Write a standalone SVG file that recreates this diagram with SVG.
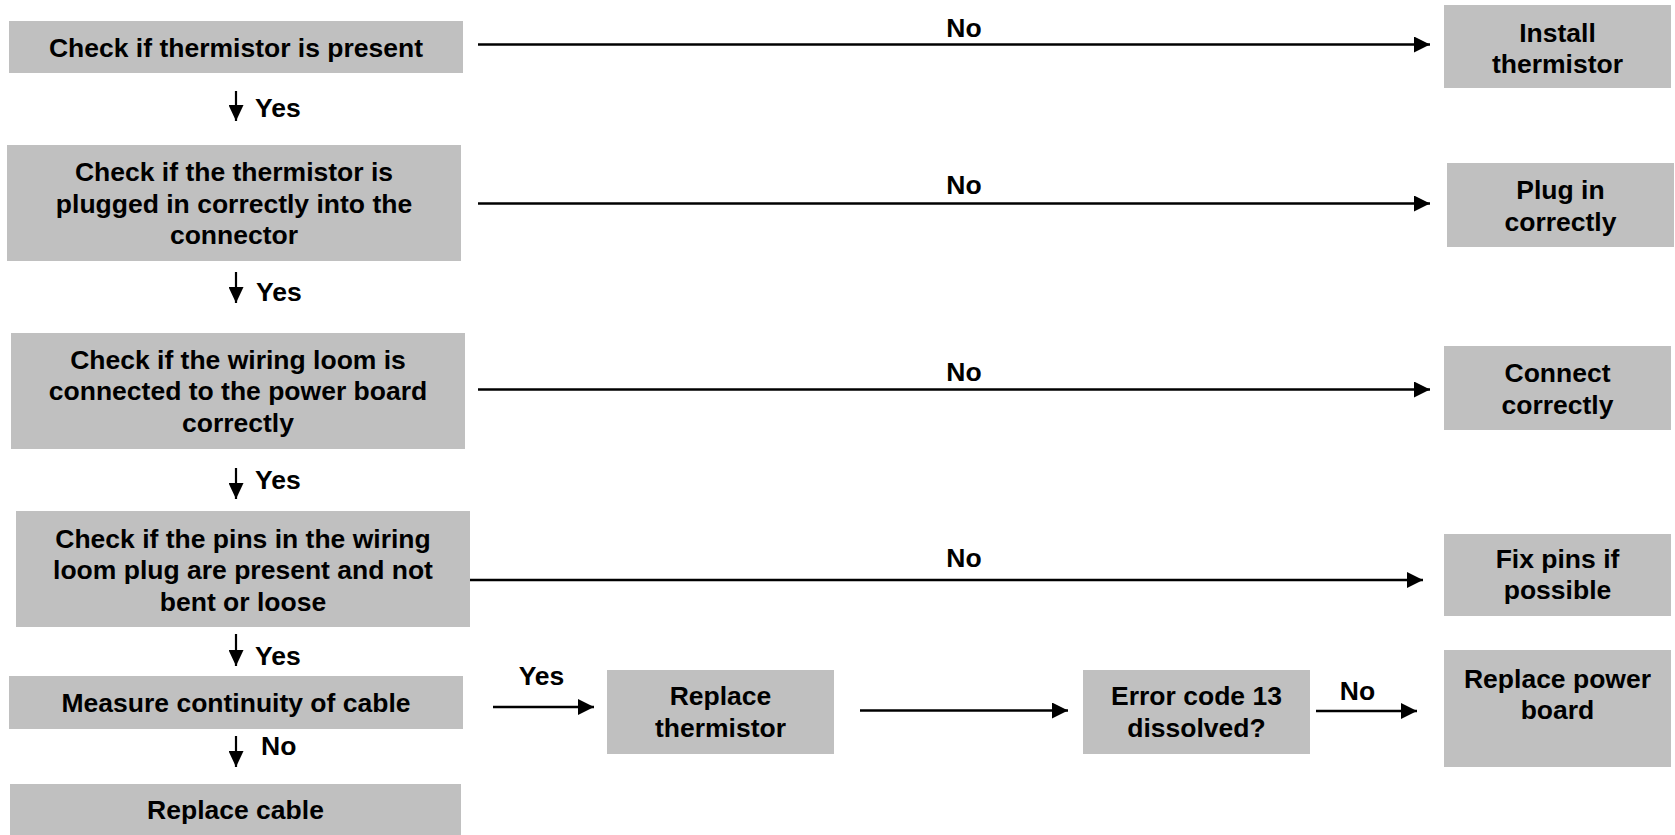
<svg xmlns="http://www.w3.org/2000/svg" width="1675" height="835" viewBox="0 0 1675 835">
<style>
.box{fill:#c0c0c0;stroke:none}
text{font-family:"Liberation Sans",Arial,sans-serif;font-weight:bold;font-size:26.5px;fill:#000}
.c{text-anchor:middle}
.ln{stroke:#000;stroke-width:2.6;fill:none}
.lv{stroke:#000;stroke-width:2.2;fill:none}
</style>
<defs>
<marker id="ah" markerUnits="userSpaceOnUse" markerWidth="16" markerHeight="16" refX="16" refY="8" orient="auto" viewBox="0 0 16 16">
<path d="M0,0 L16,8 L0,16 Z" fill="#000"/>
</marker>
<marker id="av" markerUnits="userSpaceOnUse" markerWidth="16" markerHeight="15" refX="16" refY="7.5" orient="auto" viewBox="0 0 16 15">
<path d="M0,0 L16,7.5 L0,15 Z" fill="#000"/>
</marker>
</defs>
<rect width="1675" height="835" fill="#fff"/>

<g id="n1"><rect class="box" x="9" y="21" width="454" height="52"/>
<text class="c" x="236" y="56.5">Check if thermistor is present</text></g>
<g id="n2"><rect class="box" x="7" y="145" width="454" height="116"/>
<text class="c" x="234" y="181">Check if the thermistor is</text>
<text class="c" x="234" y="212.5">plugged in correctly into the</text>
<text class="c" x="234" y="243.5">connector</text></g>
<g id="n3"><rect class="box" x="11" y="333" width="454" height="116"/>
<text class="c" x="238" y="368.5">Check if the wiring loom is</text>
<text class="c" x="238" y="400">connected to the power board</text>
<text class="c" x="238" y="431.5">correctly</text></g>
<g id="n4"><rect class="box" x="16" y="511" width="454" height="116"/>
<text class="c" x="243" y="547.5">Check if the pins in the wiring</text>
<text class="c" x="243" y="579">loom plug are present and not</text>
<text class="c" x="243" y="610.5">bent or loose</text></g>
<g id="n5"><rect class="box" x="9" y="676" width="454" height="53"/>
<text class="c" x="236" y="712">Measure continuity of cable</text></g>
<g id="n6"><rect class="box" x="10" y="784" width="451" height="51"/>
<text class="c" x="235.5" y="819">Replace cable</text></g>

<g id="n7"><rect class="box" x="1444" y="5" width="227" height="83"/>
<text class="c" x="1557.5" y="41.5">Install</text>
<text class="c" x="1557.5" y="73">thermistor</text></g>
<g id="n8"><rect class="box" x="1447" y="163" width="227" height="84"/>
<text class="c" x="1560.5" y="199">Plug in</text>
<text class="c" x="1560.5" y="230.5">correctly</text></g>
<g id="n9"><rect class="box" x="1444" y="346" width="227" height="84"/>
<text class="c" x="1557.5" y="382">Connect</text>
<text class="c" x="1557.5" y="413.5">correctly</text></g>
<g id="n10"><rect class="box" x="1444" y="534" width="227" height="82"/>
<text class="c" x="1557.5" y="567.5">Fix pins if</text>
<text class="c" x="1557.5" y="599">possible</text></g>
<g id="n11"><rect class="box" x="1444" y="650" width="227" height="117"/>
<text class="c" x="1557.5" y="687.5">Replace power</text>
<text class="c" x="1557.5" y="719">board</text></g>
<g id="n12"><rect class="box" x="607" y="670" width="227" height="84"/>
<text class="c" x="720.5" y="705">Replace</text>
<text class="c" x="720.5" y="737">thermistor</text></g>
<g id="n13"><rect class="box" x="1083" y="670" width="227" height="84"/>
<text class="c" x="1196.5" y="705">Error code 13</text>
<text class="c" x="1196.5" y="737">dissolved?</text></g>

<g id="connectors">
<line class="ln" x1="478" y1="44.5" x2="1430" y2="44.5" marker-end="url(#ah)"/>
<line class="ln" x1="478" y1="203.5" x2="1430" y2="203.5" marker-end="url(#ah)"/>
<line class="ln" x1="478" y1="389.5" x2="1430" y2="389.5" marker-end="url(#ah)"/>
<line class="ln" x1="470" y1="580" x2="1423" y2="580" marker-end="url(#ah)"/>
<line class="ln" x1="493" y1="707" x2="594" y2="707" marker-end="url(#ah)"/>
<line class="ln" x1="860" y1="710.5" x2="1068" y2="710.5" marker-end="url(#ah)"/>
<line class="ln" x1="1316" y1="711" x2="1417" y2="711" marker-end="url(#ah)"/>
<line class="lv" x1="236" y1="91" x2="236" y2="121" marker-end="url(#av)"/>
<line class="lv" x1="236" y1="272" x2="236" y2="303" marker-end="url(#av)"/>
<line class="lv" x1="236" y1="468" x2="236" y2="499" marker-end="url(#av)"/>
<line class="lv" x1="236" y1="634" x2="236" y2="666" marker-end="url(#av)"/>
<line class="lv" x1="236" y1="736" x2="236" y2="767" marker-end="url(#av)"/>
<text class="c" x="964" y="36.5">No</text>
<text class="c" x="964" y="194">No</text>
<text class="c" x="964" y="381">No</text>
<text class="c" x="964" y="567">No</text>
<text class="c" x="541.5" y="685">Yes</text>
<text class="c" x="1357.5" y="700">No</text>
<text x="255" y="116.5">Yes</text>
<text x="256" y="300.5">Yes</text>
<text x="255" y="488.5">Yes</text>
<text x="255" y="664.5">Yes</text>
<text x="261" y="754.5">No</text>
</g>
</svg>
